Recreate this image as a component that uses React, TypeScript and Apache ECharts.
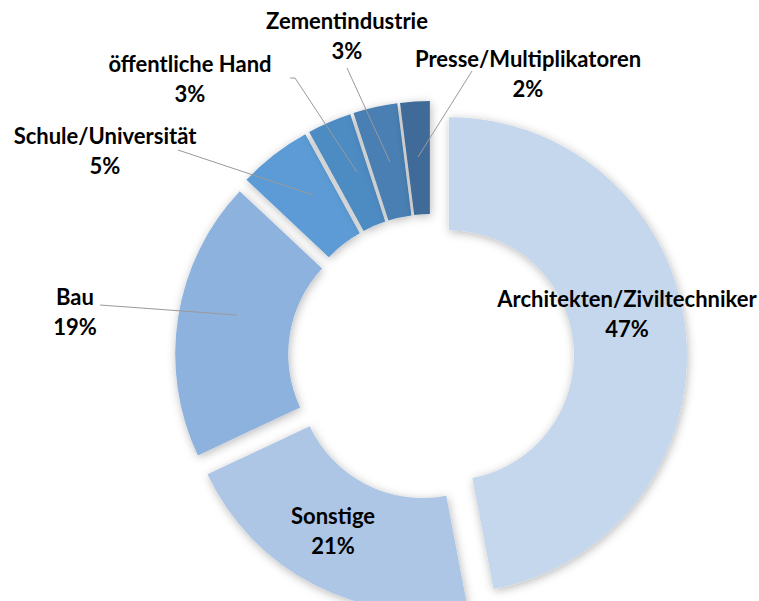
import React, { useEffect, useRef } from "react";
import * as echarts from "echarts";

const categories = [
  "Architekten/Ziviltechniker",
  "Sonstige",
  "Bau",
  "Schule/Universität",
  "öffentliche Hand",
  "Zementindustrie",
  "Presse/Multiplikatoren",
];
const values = [47, 21, 19, 5, 3, 3, 2];
const colors = ["#c5d7ec", "#adc6e5", "#8db2de", "#5b9bd5", "#4e8bc3", "#487fb2", "#3f6b97"];

// label anchor [x, y] and leader line points (layout only)
const labelPos: number[][] = [
  [627, 313],
  [333, 530],
  [75, 311],
  [105, 150],
  [190, 78],
  [347, 35],
  [528, 73],
];
const leaderLines: (number[][] | null)[] = [
  null,
  null,
  [[100, 305], [237, 315]],
  [[178, 150], [313, 195]],
  [[290, 78], [295, 78], [357, 172]],
  [[347, 68], [390, 162]],
  [[472, 71], [418, 157]],
];

export default function App() {
  const ref = useRef<HTMLDivElement>(null);
  useEffect(() => {
    if (!ref.current) return;
    const chart = echarts.init(ref.current, undefined, { renderer: "svg" });
    const data = categories.map((name, i) => ({
      name,
      value: values[i],
      selected: true,
      itemStyle: { color: colors[i] },
      select: { itemStyle: { color: colors[i] } },
    }));
    const graphics: any[] = [];
    categories.forEach((name, i) => {
      const pts = leaderLines[i];
      if (pts) {
        graphics.push({
          type: "polyline",
          z: 90,
          shape: { points: pts },
          style: { stroke: "#9a9a9a", lineWidth: 1, fill: null },
          silent: true,
        });
      }
      graphics.push({
        type: "text",
        z: 100,
        x: labelPos[i][0],
        y: labelPos[i][1],
        style: {
          text: name + "\n" + values[i] + "%",
          fontFamily: "Lato",
          fontWeight: "bold",
          fontSize: 22,
          lineHeight: 30,
          fill: "#000000",
          textAlign: "center",
          textVerticalAlign: "middle",
          align: "center",
          verticalAlign: "middle",
        },
        silent: true,
      });
    });
    chart.setOption({
      animation: false,
      backgroundColor: "#ffffff",
      series: [
        {
          type: "pie",
          center: [431, 357],
          radius: [125, 238],
          startAngle: 90,
          clockwise: true,
          selectedMode: "multiple",
          selectedOffset: 18,
          data,
          itemStyle: {
            borderWidth: 0,
            shadowBlur: 10,
            shadowColor: "rgba(0,0,0,0.28)",
            shadowOffsetX: 1,
            shadowOffsetY: 2,
          },
          label: { show: false },
          labelLine: { show: false },
          emphasis: { disabled: true },
        },
      ],
      graphic: { elements: graphics },
    });
    return () => chart.dispose();
  }, []);
  return (
    <div
      ref={ref}
      style={{ position: "fixed", left: 0, top: 0, width: 759, height: 601 }}
    />
  );
}
